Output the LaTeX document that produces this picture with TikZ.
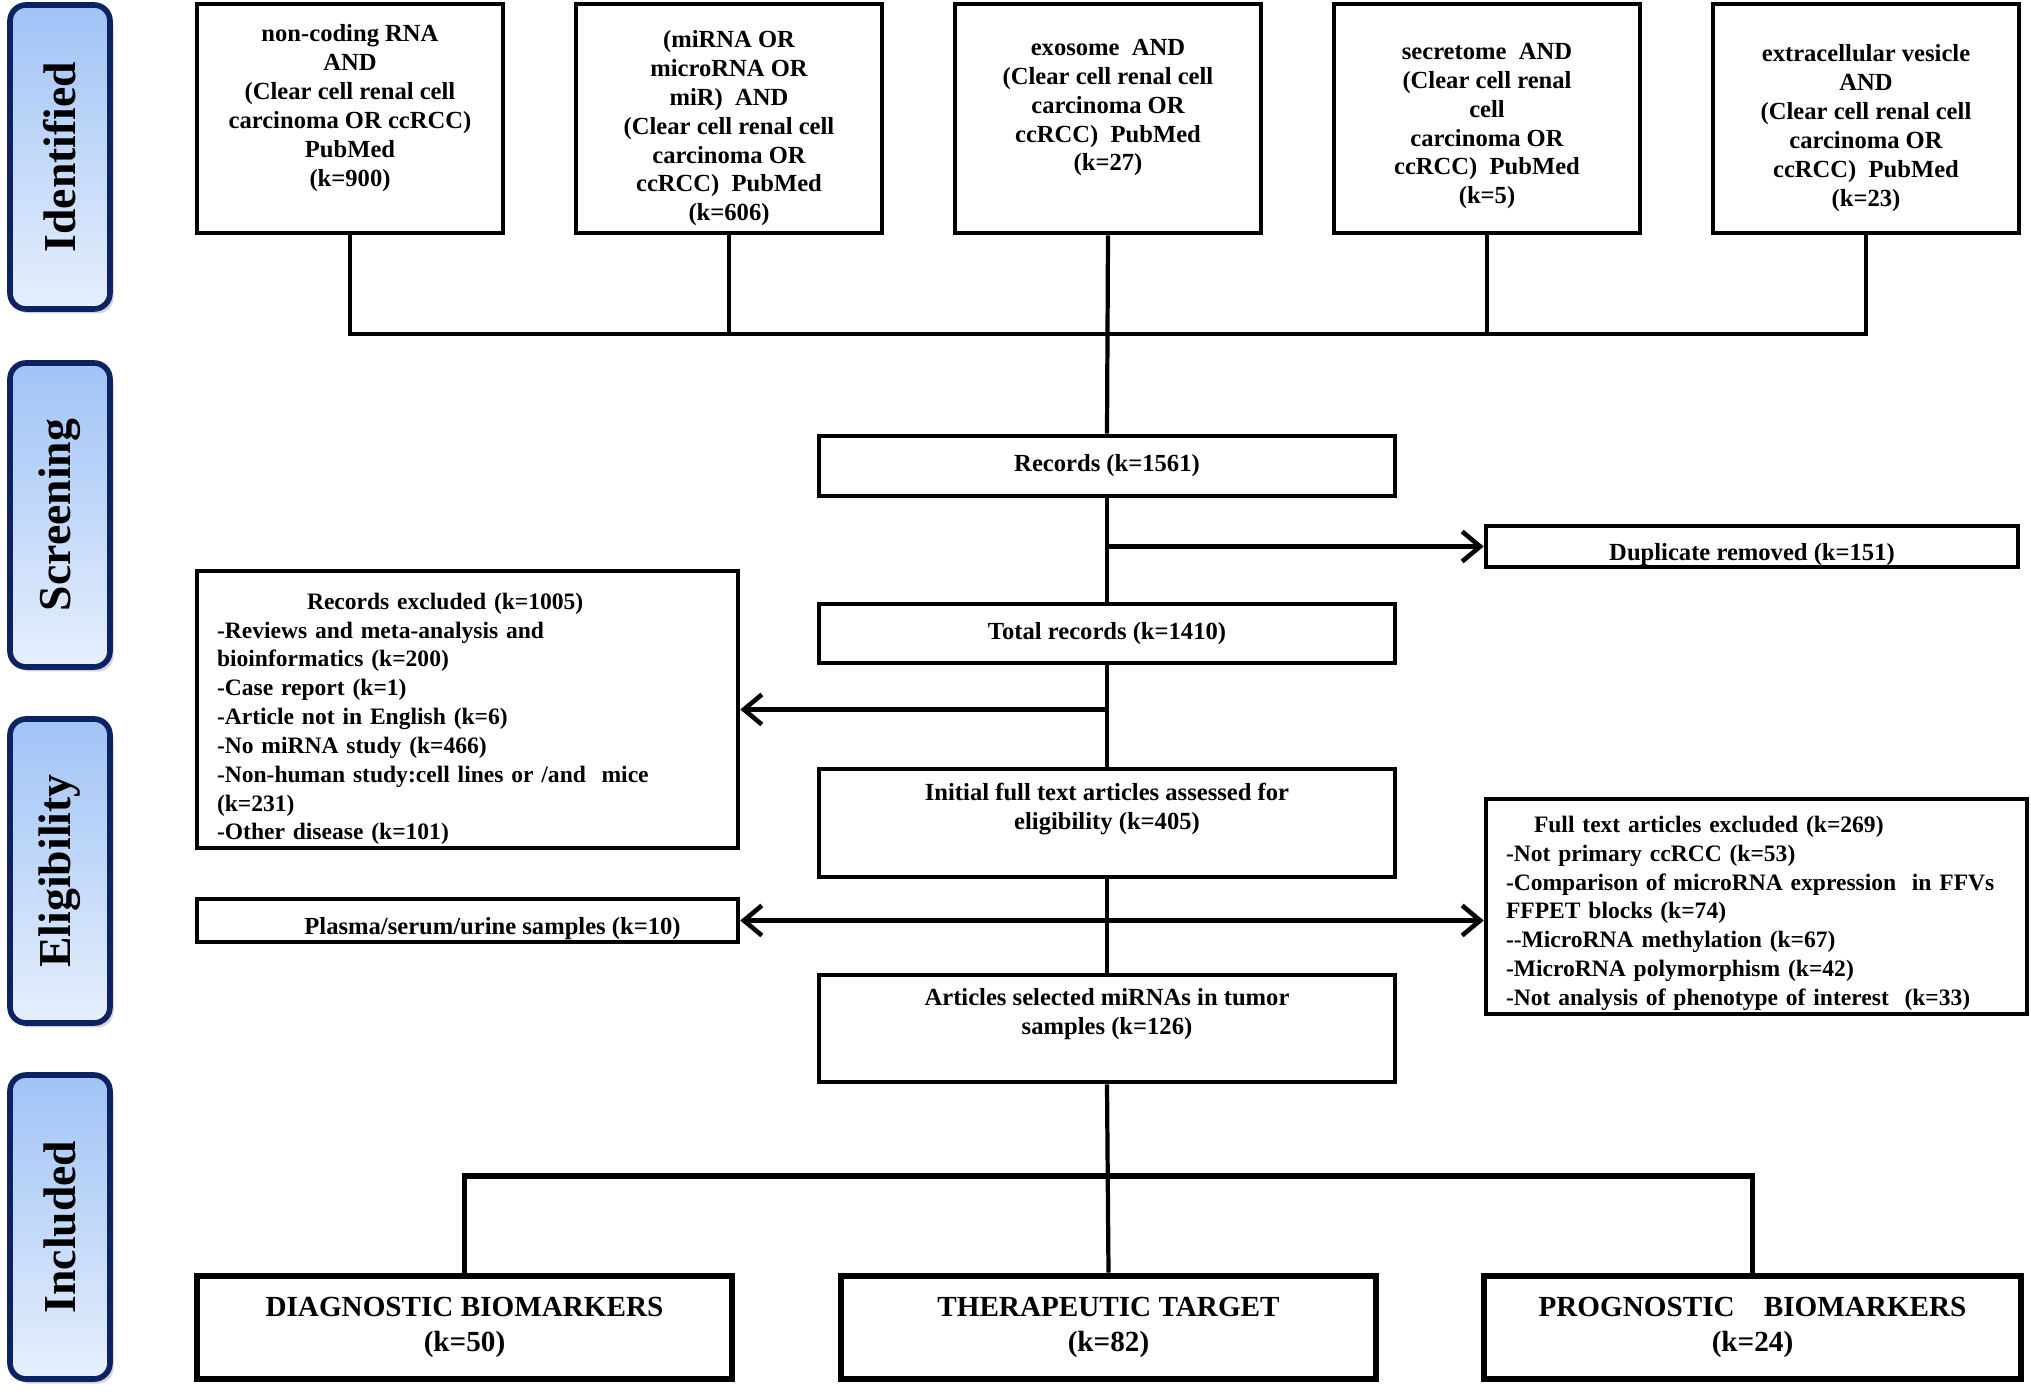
\documentclass[tikz,border=0pt]{standalone}
\usepackage{fontspec}
\setmainfont{Liberation Serif}
\usepackage{graphicx}
\usepackage{tikz}
\usetikzlibrary{arrows.meta,shadows}
\usepackage{xcolor}
\definecolor{stagetop}{HTML}{A0C3F6}
\definecolor{stagebot}{HTML}{E6EFFC}
\definecolor{stageline}{HTML}{0D2262}
% struts to move a node's text up or down inside its box
\newcommand{\upstrut}[1]{\rule[-#1]{0pt}{0pt}}
\newcommand{\downstrut}[1]{\rule{0pt}{#1}}

\tikzset{
  stage/.style={draw=stageline,line width=1.6pt,rounded corners=0.16cm,
    top color=stagetop,bottom color=stagebot,
    drop shadow={shadow xshift=0.035cm,shadow yshift=-0.045cm,opacity=0.35},
    minimum width=1.0cm,minimum height=3.04cm,inner sep=0pt,
    font=\bfseries\fontsize{13}{15}\selectfont},
  qbox/.style={draw,line width=1.3pt,minimum width=3.06cm,minimum height=2.29cm,
    align=center,inner sep=0pt,font=\bfseries\fontsize{7}{8.2}\selectfont},
  mbox/.style={draw,line width=1.4pt,minimum width=5.76cm,align=center,inner sep=0pt,
    font=\bfseries\fontsize{7}{8.2}\selectfont},
  listbox/.style={draw,line width=1.3pt,align=left,inner xsep=0.2cm,inner ysep=0pt,
    font=\bfseries\fontsize{6.7}{8.2}\selectfont},
  outbox/.style={draw,line width=1.9pt,minimum height=1.03cm,align=center,inner sep=0pt,
    font=\bfseries\fontsize{8.3}{10.2}\selectfont},
  link/.style={line width=1.2pt},
  arrow/.style={line width=1.3pt,-{Straight Barb[length=0.18cm,width=0.3cm]}},
  twoway/.style={line width=1.3pt,{Straight Barb[length=0.18cm,width=0.3cm]}-{Straight Barb[length=0.18cm,width=0.3cm]}},
}

\begin{document}
\begin{tikzpicture}[>=latex,scale=1.0]
\useasboundingbox (0,0) rectangle (20.31,-13.92);
\fill[white] (0,0) rectangle (20.31,-13.92);

% stages
\node[stage] (sid) at (0.60,-1.57)  {\rotatebox{90}{Identified}};
\node[stage] (ssc) at (0.60,-5.15)  {\rotatebox{90}{Screening}};
\node[stage] (sel) at (0.60,-8.71)  {\rotatebox{90}{Eligibility}};
\node[stage] (sin) at (0.60,-12.27) {\rotatebox{90}{Included}};

% searches
\node[qbox] (q1) at (3.50,-1.185)  {non-coding RNA\\AND\\(Clear cell renal cell\\carcinoma OR ccRCC)\\PubMed\\(k=900)\upstrut{7.4pt}};
\node[qbox] (q2) at (7.29,-1.185)  {\downstrut{10.5pt}(miRNA OR\\microRNA OR\\miR)\ \ AND\\(Clear cell renal cell\\carcinoma OR\\ccRCC)\ \ PubMed\\(k=606)};
\node[qbox] (q3) at (11.08,-1.185) {exosome\ \ AND\\(Clear cell renal cell\\carcinoma OR\\ccRCC)\ \ PubMed\\(k=27)\upstrut{7.6pt}};
\node[qbox] (q4) at (14.87,-1.185) {\downstrut{9pt}secretome\ \ AND\\(Clear cell renal\\cell\\carcinoma OR\\ccRCC)\ \ PubMed\\(k=5)};
\node[qbox] (q5) at (18.66,-1.185) {\downstrut{10.3pt}extracellular vesicle\\AND\\(Clear cell renal cell\\carcinoma OR\\ccRCC)\ \ PubMed\\(k=23)};
\coordinate (hub) at (11.08,-3.34);

% main column
\node[mbox,minimum height=0.60cm] (rec) at (11.07,-4.66)  {Records (k=1561)};
\node[mbox,minimum height=0.59cm] (tot) at (11.07,-6.335) {Total records (k=1410)};
\node[mbox,minimum height=1.08cm] (ini) at (11.07,-8.23)  {Initial full text articles assessed for\\eligibility (k=405)\upstrut{9.7pt}};
\node[mbox,minimum height=1.07cm] (art) at (11.07,-10.285) {Articles selected miRNAs in tumor\\samples (k=126)\upstrut{9.7pt}};

% side boxes
\node[mbox,line width=1.3pt,minimum width=5.32cm,minimum height=0.41cm] (dup) at (17.52,-5.465) {\downstrut{9.5pt}Duplicate removed (k=151)};
\node[listbox,text width=5.01cm,minimum height=2.77cm] (exc) at (4.675,-7.095)
  {\downstrut{10pt}\hspace*{0.9cm}Records excluded (k=1005)\\
   -Reviews and meta-analysis and\\
   bioinformatics (k=200)\\
   -Case report (k=1)\\
   -Article not in English (k=6)\\
   -No miRNA study (k=466)\\
   -Non-human study:cell lines or /and\ \ mice\\
   (k=231)\\
   -Other disease (k=101)};
\node[mbox,line width=1.3pt,minimum width=5.41cm,minimum height=0.43cm] (pls) at (4.675,-9.205) {\downstrut{9.5pt}\hspace*{0.5cm}Plasma/serum/urine samples (k=10)};
\node[listbox,text width=5.01cm,minimum height=2.15cm] (ftx) at (17.565,-9.065)
  {\downstrut{8.5pt}\hspace*{0.28cm}Full text articles excluded (k=269)\\
   -Not primary ccRCC (k=53)\\
   -Comparison of microRNA expression\ \ in FFVs\\
   FFPET blocks (k=74)\\
   -{}-MicroRNA methylation (k=67)\\
   -MicroRNA polymorphism (k=42)\\
   -Not analysis of phenotype of interest\ \ (k=33)};

% outcomes
\node[outbox,minimum width=5.35cm] (dia) at (4.645,-13.275)  {DIAGNOSTIC BIOMARKERS\\(k=50)};
\node[outbox,minimum width=5.35cm] (thr) at (11.085,-13.275) {THERAPEUTIC TARGET\\(k=82)};
\node[outbox,minimum width=5.37cm] (prg) at (17.525,-13.275) {PROGNOSTIC\quad BIOMARKERS\\(k=24)};
\coordinate (split) at (11.08,-11.76);

% connectors
\draw[link] (q1.south) |- (hub) -| (q5.south);
\draw[link] (q2.south) -- (q2.south |- hub);
\draw[link] (q4.south) -- (q4.south |- hub);
\draw[link] (q3.south) -- (rec.north);
\draw[link] (rec.south) -- (tot.north);
\draw[arrow] (rec.south |- dup.west) -- (dup.west);
\draw[link] (tot.south) -- (ini.north);
\draw[arrow] (tot.south |- exc.east) -- (exc.east);
\draw[link] (ini.south) -- (art.north);
\draw[twoway] (pls.east) -- (pls.east -| ftx.west);
\draw[link] (art.south) -- (thr.north);
\draw[link,line width=1.6pt] (dia.north) |- (split) -| (prg.north);
\end{tikzpicture}
\end{document}
